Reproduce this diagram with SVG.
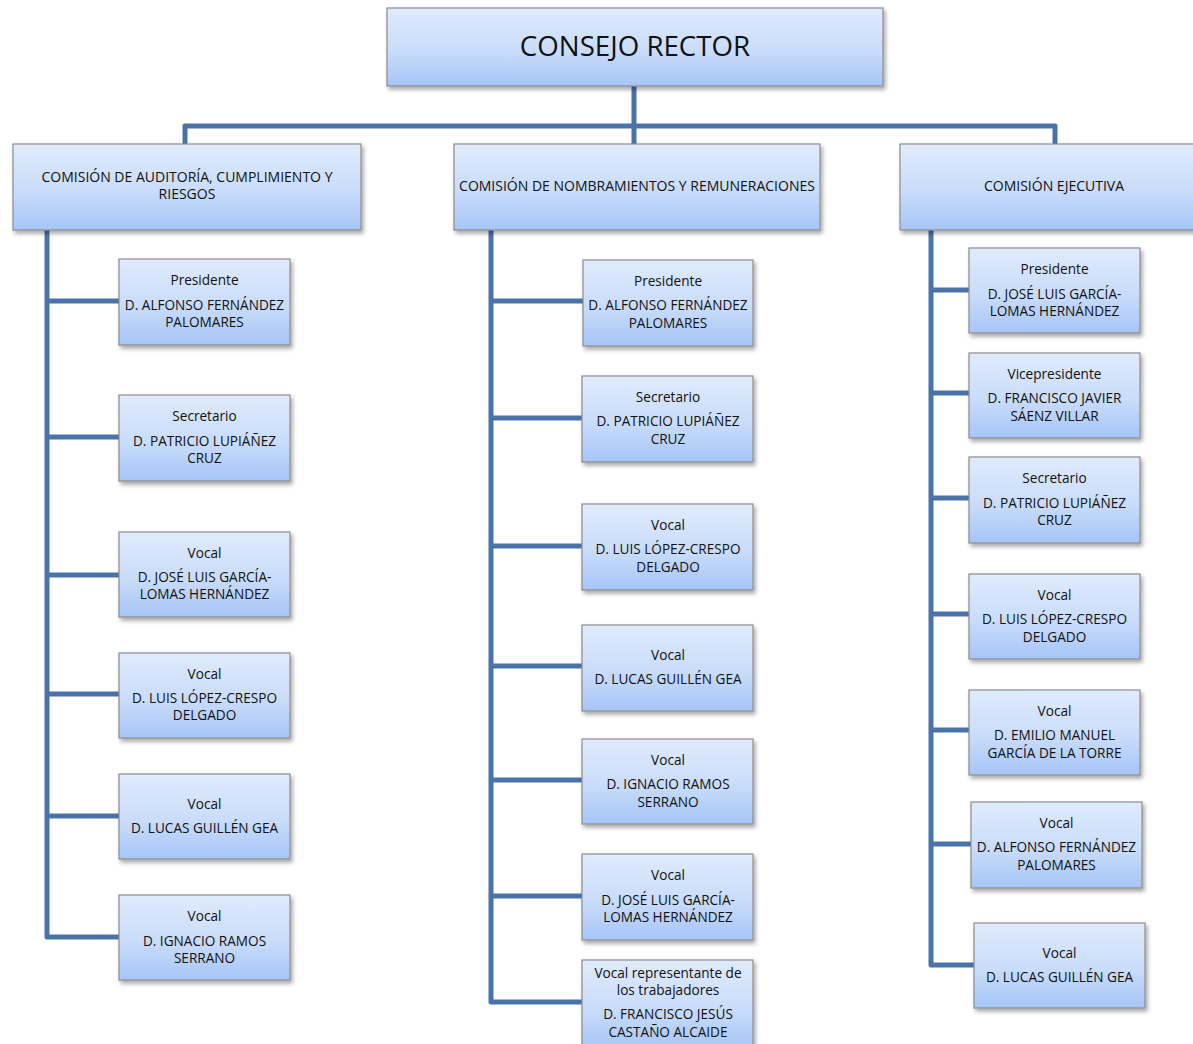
<svg xmlns="http://www.w3.org/2000/svg" width="1193" height="1044" viewBox="0 0 1193 1044">
<defs>
<linearGradient id="g" x1="0" y1="0" x2="0" y2="1">
<stop offset="0" stop-color="#e0ebfc"/>
<stop offset="0.55" stop-color="#c9dcfa"/>
<stop offset="1" stop-color="#a6c5f7"/>
</linearGradient>
<filter id="sh" x="-10%" y="-10%" width="130%" height="140%">
<feDropShadow dx="2" dy="3" stdDeviation="2" flood-color="#000" flood-opacity="0.35"/>
</filter>
</defs>
<style>
.b{fill:url(#g);stroke:#8c8c8c;stroke-width:1.2;filter:url(#sh)}
text{font-family:"Open Sans","Liberation Sans",sans-serif;fill:#111;text-anchor:middle}
.t{font-size:13.6px}
.c{font-size:14px}
.h{font-size:27.7px}
.k{fill:none;stroke:#4a73aa;stroke-width:5;stroke-linejoin:round}
</style>
<g id="connectors">
<path class="k" d="M634 86V126M185 144V126H1055V144M634 126V144"/>
<path class="k" d="M47 230V937H119M47 301H119M47 437H119M47 575H119M47 694H119M47 816H119"/>
<path class="k" d="M491 230V1002H583M491 301H583M491 418H583M491 546H583M491 666H583M491 780H583M491 896H583"/>
<path class="k" d="M931 230V965H974M931 290H969M931 393H969M931 498H969M931 614H969M931 730H969M931 844H971"/>
</g>
<g id="consejo"><rect class="b" x="387" y="8" width="496" height="78"/><text class="h" x="635" y="56">CONSEJO RECTOR</text></g>
<g id="com-auditoria"><rect class="b" x="13" y="144" width="348" height="86"/><text class="c" x="187" y="182">COMISIÓN DE AUDITORÍA, CUMPLIMIENTO Y</text><text class="c" x="187" y="199">RIESGOS</text></g>
<g id="com-nombramientos"><rect class="b" x="454" y="144" width="366" height="86"/><text class="c" x="637" y="191">COMISIÓN DE NOMBRAMIENTOS Y REMUNERACIONES</text></g>
<g id="com-ejecutiva"><rect class="b" x="900" y="144" width="300" height="86"/><text class="c" x="1054" y="191">COMISIÓN EJECUTIVA</text></g>

<g id="a1"><rect class="b" x="119" y="259" width="171" height="86"/><text class="t" x="204.5" y="285">Presidente</text><text class="t" x="204.5" y="310">D. ALFONSO FERNÁNDEZ</text><text class="t" x="204.5" y="327">PALOMARES</text></g>
<g id="a2"><rect class="b" x="119" y="395" width="171" height="86"/><text class="t" x="204.5" y="421">Secretario</text><text class="t" x="204.5" y="446">D. PATRICIO LUPIÁÑEZ</text><text class="t" x="204.5" y="463">CRUZ</text></g>
<g id="a3"><rect class="b" x="119" y="532" width="171" height="85"/><text class="t" x="204.5" y="558">Vocal</text><text class="t" x="204.5" y="582">D. JOSÉ LUIS GARCÍA-</text><text class="t" x="204.5" y="599">LOMAS HERNÁNDEZ</text></g>
<g id="a4"><rect class="b" x="119" y="653" width="171" height="85"/><text class="t" x="204.5" y="679">Vocal</text><text class="t" x="204.5" y="703">D. LUIS LÓPEZ-CRESPO</text><text class="t" x="204.5" y="720">DELGADO</text></g>
<g id="a5"><rect class="b" x="119" y="774" width="171" height="85"/><text class="t" x="204.5" y="809">Vocal</text><text class="t" x="204.5" y="833">D. LUCAS GUILLÉN GEA</text></g>
<g id="a6"><rect class="b" x="119" y="895" width="171" height="85"/><text class="t" x="204.5" y="921">Vocal</text><text class="t" x="204.5" y="946">D. IGNACIO RAMOS</text><text class="t" x="204.5" y="963">SERRANO</text></g>

<g id="n1"><rect class="b" x="583" y="260" width="170" height="86"/><text class="t" x="668" y="286">Presidente</text><text class="t" x="668" y="310">D. ALFONSO FERNÁNDEZ</text><text class="t" x="668" y="328">PALOMARES</text></g>
<g id="n2"><rect class="b" x="582" y="376" width="171" height="86"/><text class="t" x="668" y="402">Secretario</text><text class="t" x="668" y="426">D. PATRICIO LUPIÁÑEZ</text><text class="t" x="668" y="444">CRUZ</text></g>
<g id="n3"><rect class="b" x="582" y="504" width="171" height="86"/><text class="t" x="668" y="530">Vocal</text><text class="t" x="668" y="554">D. LUIS LÓPEZ-CRESPO</text><text class="t" x="668" y="572">DELGADO</text></g>
<g id="n4"><rect class="b" x="582" y="625" width="171" height="86"/><text class="t" x="668" y="660">Vocal</text><text class="t" x="668" y="684">D. LUCAS GUILLÉN GEA</text></g>
<g id="n5"><rect class="b" x="582" y="739" width="171" height="85"/><text class="t" x="668" y="765">Vocal</text><text class="t" x="668" y="789">D. IGNACIO RAMOS</text><text class="t" x="668" y="807">SERRANO</text></g>
<g id="n6"><rect class="b" x="582" y="854" width="171" height="86"/><text class="t" x="668" y="880">Vocal</text><text class="t" x="668" y="905">D. JOSÉ LUIS GARCÍA-</text><text class="t" x="668" y="922">LOMAS HERNÁNDEZ</text></g>
<g id="n7"><rect class="b" x="582" y="960" width="171" height="90"/><text class="t" x="668" y="978">Vocal representante de</text><text class="t" x="668" y="995">los trabajadores</text><text class="t" x="668" y="1019">D. FRANCISCO JESÚS</text><text class="t" x="668" y="1037">CASTAÑO ALCAIDE</text></g>

<g id="e1"><rect class="b" x="969" y="248" width="171" height="85"/><text class="t" x="1054.5" y="274">Presidente</text><text class="t" x="1054.5" y="299">D. JOSÉ LUIS GARCÍA-</text><text class="t" x="1054.5" y="316">LOMAS HERNÁNDEZ</text></g>
<g id="e2"><rect class="b" x="969" y="353" width="171" height="85"/><text class="t" x="1054.5" y="379">Vicepresidente</text><text class="t" x="1054.5" y="403">D. FRANCISCO JAVIER</text><text class="t" x="1054.5" y="421">SÁENZ VILLAR</text></g>
<g id="e3"><rect class="b" x="969" y="457" width="171" height="86"/><text class="t" x="1054.5" y="483">Secretario</text><text class="t" x="1054.5" y="508">D. PATRICIO LUPIÁÑEZ</text><text class="t" x="1054.5" y="525">CRUZ</text></g>
<g id="e4"><rect class="b" x="969" y="574" width="171" height="85"/><text class="t" x="1054.5" y="600">Vocal</text><text class="t" x="1054.5" y="624">D. LUIS LÓPEZ-CRESPO</text><text class="t" x="1054.5" y="642">DELGADO</text></g>
<g id="e5"><rect class="b" x="969" y="690" width="171" height="85"/><text class="t" x="1054.5" y="716">Vocal</text><text class="t" x="1054.5" y="740">D. EMILIO MANUEL</text><text class="t" x="1054.5" y="758">GARCÍA DE LA TORRE</text></g>
<g id="e6"><rect class="b" x="971" y="802" width="171" height="86"/><text class="t" x="1056.5" y="828">Vocal</text><text class="t" x="1056.5" y="852">D. ALFONSO FERNÁNDEZ</text><text class="t" x="1056.5" y="870">PALOMARES</text></g>
<g id="e7"><rect class="b" x="974" y="923" width="171" height="85"/><text class="t" x="1059.5" y="958">Vocal</text><text class="t" x="1059.5" y="982">D. LUCAS GUILLÉN GEA</text></g>
</svg>
